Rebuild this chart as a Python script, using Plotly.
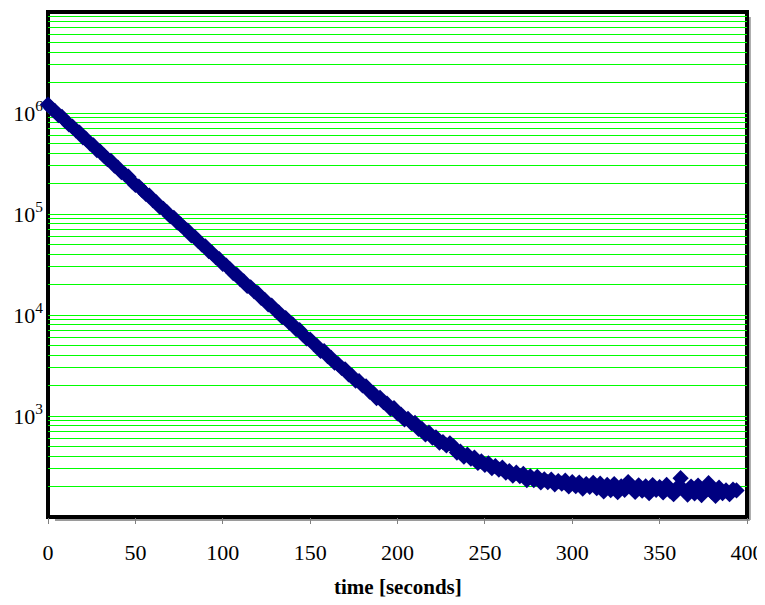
import plotly.graph_objects as go

# time [seconds], one reading every 2 s
time_s = [0, 2, 4, 6, 8, 10, 12, 14, 16, 18,
          20, 22, 24, 26, 28, 30, 32, 34, 36, 38,
          40, 42, 44, 46, 48, 50, 52, 54, 56, 58,
          60, 62, 64, 66, 68, 70, 72, 74, 76, 78,
          80, 82, 84, 86, 88, 90, 92, 94, 96, 98,
          100, 102, 104, 106, 108, 110, 112, 114, 116, 118,
          120, 122, 124, 126, 128, 130, 132, 134, 136, 138,
          140, 142, 144, 146, 148, 150, 152, 154, 156, 158,
          160, 162, 164, 166, 168, 170, 172, 174, 176, 178,
          180, 182, 184, 186, 188, 190, 192, 194, 196, 198,
          200, 202, 204, 206, 208, 210, 212, 214, 216, 218,
          220, 222, 224, 226, 228, 230, 232, 234, 236, 238,
          240, 242, 244, 246, 248, 250, 252, 254, 256, 258,
          260, 262, 264, 266, 268, 270, 272, 274, 276, 278,
          280, 282, 284, 286, 288, 290, 292, 294, 296, 298,
          300, 302, 304, 306, 308, 310, 312, 314, 316, 318,
          320, 322, 324, 326, 328, 330, 332, 334, 336, 338,
          340, 342, 344, 346, 348, 350, 352, 354, 356, 358,
          360, 362, 364, 366, 368, 370, 372, 374, 376, 378,
          380, 382, 384, 386, 388, 390, 392, 394]

counts = [1212000, 1105000, 1044000, 952000, 913000, 837000, 771000, 732000, 672000, 640000,
          575000, 547000, 501000, 478000, 429000, 411000, 379000, 349000, 335000, 302000,
          287000, 260000, 247000, 234000, 211000, 194000, 187000, 171600, 158100, 151600,
          136900, 130000, 117400, 112500, 104200, 95100, 91600, 82700, 78600, 71900,
          68300, 61300, 58900, 54200, 50000, 47900, 43000, 41000, 37400, 35700,
          32100, 30800, 28500, 26000, 25000, 22600, 21500, 19400, 18800, 17150,
          16450, 14800, 14130, 12770, 12380, 11200, 10640, 9570, 9330, 8440,
          8070, 7260, 7070, 6380, 5880, 5710, 5170, 4920, 4410, 4380,
          3925, 3770, 3370, 3260, 2990, 2900, 2590, 2490, 2240, 2210,
          2010, 1960, 1745, 1690, 1505, 1515, 1370, 1325, 1185, 1195,
          1062, 1032, 925, 937, 851, 854, 747, 745, 657, 683,
          612, 613, 544, 551, 511, 537, 500, 435, 443, 396,
          414, 379, 388, 343, 356, 328, 340, 305, 318, 295,
          308, 275, 285, 257, 275, 254, 267, 232, 253, 232,
          250, 220, 236, 221, 235, 211, 227, 214, 229, 201,
          221, 202, 219, 191, 212, 199, 218, 193, 214, 179,
          208, 185, 212, 176, 201, 186, 222, 201, 177, 206,
          182, 201, 172, 207, 186, 198, 175, 208, 181, 168,
          195, 242, 184, 167, 200, 171, 205, 165, 185, 216,
          176, 162, 195, 172, 183, 168, 187, 183]

x_tick_vals = [0, 50, 100, 150, 200, 250, 300, 350, 400]

y_grid_vals = [m * 10 ** k for k in range(2, 7) for m in range(1, 10)] + [10 ** 7]
y_label_map = {1000: "10<sup>3</sup>", 10000: "10<sup>4</sup>",
               100000: "10<sup>5</sup>", 1000000: "10<sup>6</sup>"}
y_tick_labels = [y_label_map.get(v, "") for v in y_grid_vals]

x_title = "time [seconds]"

fig = go.Figure()
fig.add_trace(go.Scatter(
    x=time_s, y=counts, mode="markers",
    marker=dict(symbol="diamond", size=12.5, color="#000080", line=dict(width=0)),
    cliponaxis=False, showlegend=False,
))

FONT = "Liberation Serif, Times New Roman, serif"

# the page body adds an 8px margin, so the figure is 8px smaller and offsets are reduced
fig.update_layout(
    width=757, height=597,
    margin=dict(l=40, r=18, t=4, b=88),
    paper_bgcolor="white", plot_bgcolor="white",
    font=dict(family=FONT, size=22, color="black"),
    xaxis=dict(
        range=[0, 400], tickvals=x_tick_vals, showgrid=False, zeroline=False,
        ticks="outside", ticklen=6, tickwidth=1, tickcolor="#808080",
        ticklabelstandoff=10, tickfont=dict(family=FONT, size=22),
        showline=False, automargin=False,
    ),
    yaxis=dict(
        type="log", range=[2, 7], tickvals=y_grid_vals, ticktext=y_tick_labels,
        showgrid=True, gridcolor="#00FF00", gridwidth=1, zeroline=False,
        ticks="", tickfont=dict(family=FONT, size=22), showline=False,
        automargin=False, ticklabelstandoff=4,
    ),
    shapes=[
        dict(type="line", xref="paper", yref="paper", x0=1.004, x1=1.004, y0=-0.006, y1=0.99,
             line=dict(color="#9a9a9a", width=2), layer="below"),
        dict(type="line", xref="paper", yref="paper", x0=0.01, x1=1.004, y0=-0.006, y1=-0.006,
             line=dict(color="#9a9a9a", width=2), layer="below"),
        dict(type="rect", xref="paper", yref="paper", x0=0, x1=1, y0=0, y1=1,
             line=dict(color="black", width=4), layer="below"),
    ],
    annotations=[dict(
        text=x_title, xref="paper", yref="paper", x=0.5, y=-0.139,
        xanchor="center", yanchor="middle", showarrow=False,
        font=dict(family=FONT, size=21, color="black", weight="bold"),
    )],
)

fig.write_html("out.html")
